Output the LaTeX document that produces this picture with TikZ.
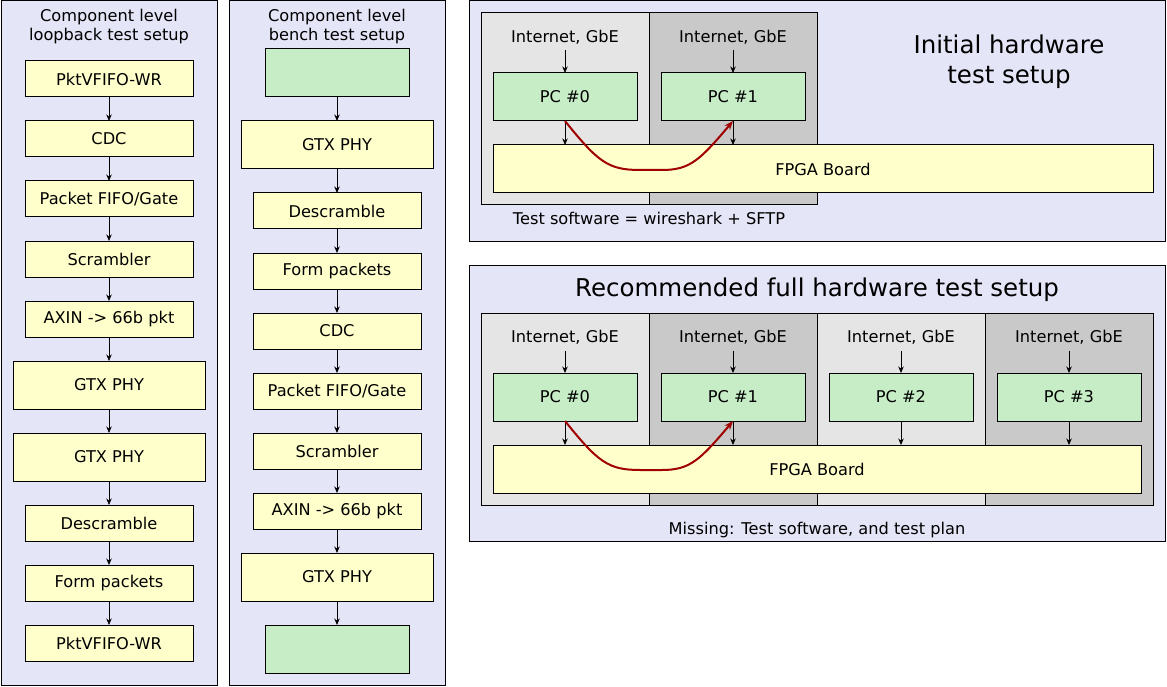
\documentclass[tikz,border=0pt]{standalone}
\usepackage{fontspec}
\setmainfont{DejaVu Sans}
\usetikzlibrary{arrows.meta}
\definecolor{lav}{HTML}{E5E5F8}
\definecolor{cyel}{HTML}{FFFFCC}
\definecolor{cgrn}{HTML}{C7EDC7}
\definecolor{glight}{HTML}{E5E5E5}
\definecolor{gdark}{HTML}{C9C9C9}
\definecolor{cred}{HTML}{A00000}
\begin{document}
\begin{tikzpicture}[x=1pt,y=-1pt,
  font=\fontsize{16.2}{19}\selectfont,
  panel/.style={draw=black, line width=1pt, fill=lav},
  box/.style={draw=black, line width=1pt, inner sep=0pt, outer sep=0pt, minimum width=168pt, minimum height=36pt},
  ybox/.style={box, fill=cyel},
  gbox/.style={box, fill=cgrn},
  widebox/.style={minimum width=192pt, minimum height=48pt},
  pcbox/.style={gbox, minimum width=144pt, minimum height=48pt},
  lbl/.style={inner sep=0pt, outer sep=0pt, minimum height=26pt},
  arr/.style={-{Stealth[length=6.5pt,width=5.5pt]}, line width=0.8pt},
  redarr/.style={-{Stealth[length=9pt,width=7pt]}, line width=2pt, draw=cred, color=cred},
  bigtitle/.style={font=\fontsize{24.5}{30}\selectfont, align=center}
]
\useasboundingbox (0,0) rectangle (1167,687);
\fill[white] (0,0) rectangle (1167,687);

% ---------- left panel ----------
\draw[panel] (1,1) rectangle (217,685);
\node[align=center] (t1) at (109,27) {Component level\\loopback test setup};
\node[ybox] (l1) at (109,79) {PktVFIFO-WR};
\node[ybox] (l2) at (109,139) {CDC};
\node[ybox] (l3) at (109,199) {Packet FIFO/Gate};
\node[ybox] (l4) at (109,259) {Scrambler};
\node[ybox] (l5) at (109,319) {AXIN -> 66b pkt};
\node[ybox, widebox] (l6) at (109,385) {GTX PHY};
\node[ybox, widebox] (l7) at (109,457) {GTX PHY};
\node[ybox] (l8) at (109,523) {Descramble};
\node[ybox] (l9) at (109,583) {Form packets};
\node[ybox] (l10) at (109,643) {PktVFIFO-WR};
\foreach \a/\b in {l1/l2,l2/l3,l3/l4,l4/l5,l5/l6,l6/l7,l7/l8,l8/l9,l9/l10}
  \draw[arr] (\a) -- (\b);

% ---------- middle panel ----------
\draw[panel] (229,1) rectangle (445,685);
\node[align=center] (t2) at (337,27) {Component level\\bench test setup};
\node[gbox, minimum width=144pt, minimum height=48pt] (m1) at (337,73) {};
\node[ybox, widebox] (m2) at (337,145) {GTX PHY};
\node[ybox] (m3) at (337,211) {Descramble};
\node[ybox] (m4) at (337,271) {Form packets};
\node[ybox] (m5) at (337,331) {CDC};
\node[ybox] (m6) at (337,391) {Packet FIFO/Gate};
\node[ybox] (m7) at (337,451) {Scrambler};
\node[ybox] (m8) at (337,511) {AXIN -> 66b pkt};
\node[ybox, widebox] (m9) at (337,577) {GTX PHY};
\node[gbox, minimum width=144pt, minimum height=48pt] (m10) at (337,649) {};
\foreach \a/\b in {m1/m2,m2/m3,m3/m4,m4/m5,m5/m6,m6/m7,m7/m8,m8/m9,m9/m10}
  \draw[arr] (\a) -- (\b);

% ---------- top right panel ----------
\draw[panel] (469,1) rectangle (1165,241);
\draw[fill=glight, line width=1pt] (481,13) rectangle (649,205);
\draw[fill=gdark, line width=1pt] (649,13) rectangle (817,205);
\node[bigtitle] (t3) at (1009,62) {Initial hardware\\test setup};
\node[lbl] (ia0) at (565,37.5) {Internet, GbE};
\node[lbl] (ia1) at (733,37.5) {Internet, GbE};
\node[pcbox] (pa0) at (565,97) {PC \#0};
\node[pcbox] (pa1) at (733,97) {PC \#1};
\node[ybox, minimum width=660pt, minimum height=48pt] (fa) at (823,169) {FPGA Board};
\draw[arr] (ia0) -- (pa0);
\draw[arr] (ia1) -- (pa1);
\draw[arr] (pa0.south) -- (pa0.south |- fa.north);
\draw[arr] (pa1.south) -- (pa1.south |- fa.north);
\draw[redarr] (pa0.south) .. controls (598,162) and (608,170) .. (640,170)
  -- (662,170) .. controls (690,170) and (700,160) .. (pa1.south);
\node (n1) at (649,218) {Test software = wireshark + SFTP};

% ---------- bottom right panel ----------
\draw[panel] (469,265) rectangle (1165,541);
\node[bigtitle] (t4) at (817,290) {Recommended full hardware test setup};
\draw[fill=glight, line width=1pt] (481,313) rectangle (649,505);
\draw[fill=gdark, line width=1pt] (649,313) rectangle (817,505);
\draw[fill=glight, line width=1pt] (817,313) rectangle (985,505);
\draw[fill=gdark, line width=1pt] (985,313) rectangle (1153,505);
\node[ybox, minimum width=648pt, minimum height=48pt] (fb) at (817,469) {FPGA Board};
\foreach \i/\x in {0/565,1/733,2/901,3/1069}{
  \node[lbl] (ib\i) at (\x,337.5) {Internet, GbE};
  \node[pcbox] (pb\i) at (\x,397) {PC \#\i};
  \draw[arr] (ib\i) -- (pb\i);
  \draw[arr] (pb\i.south) -- (pb\i.south |- fb.north);
}
\draw[redarr] (pb0.south) .. controls (598,462) and (608,470) .. (640,470)
  -- (662,470) .. controls (690,470) and (700,460) .. (pb1.south);
\node (n2) at (817,530) {Missing: Test software, and test plan};
\end{tikzpicture}
\end{document}
